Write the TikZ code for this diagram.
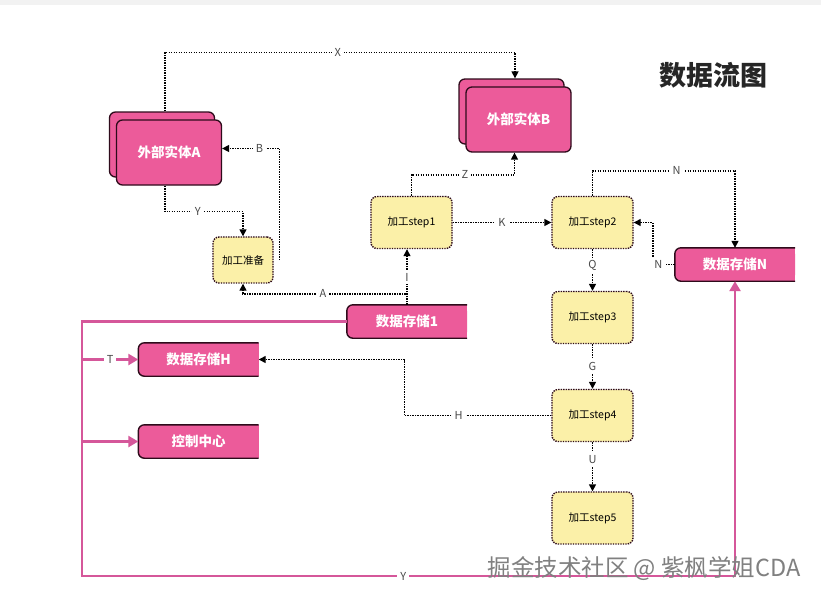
\documentclass[tikz,border=0pt]{standalone}
\usepackage{fontspec}
\setmainfont{Noto Sans CJK SC}
\usetikzlibrary{arrows.meta, positioning, shadows}

\definecolor{pinkfill}{HTML}{EC5B9A}
\definecolor{pinkline}{HTML}{D5579A}
\definecolor{darkline}{HTML}{2E0B1B}
\definecolor{yellowfill}{HTML}{FBF0A8}
\definecolor{labelgray}{HTML}{4A4A4A}

\begin{document}
\begin{tikzpicture}[x=1pt,y=-1pt,
    entity/.style={draw=darkline,line width=1.3pt,fill=pinkfill,rounded corners=6pt,
      minimum width=105pt,minimum height=65pt,text=white,
      font=\fontsize{13.5}{16}\selectfont\bfseries,
      copy shadow={shadow xshift=-7pt,shadow yshift=8pt}},
    proc/.style={draw=darkline,dash pattern=on 1.4pt off 1.1pt,line width=1.4pt,fill=yellowfill,
      rounded corners=6pt,minimum width=81pt,minimum height=52pt,font=\fontsize{10.5}{12}\selectfont},
    store/.style={fill=pinkfill,rounded corners=6pt,minimum width=120pt,minimum height=33pt,
      text=white,font=\fontsize{13.5}{16}\selectfont\bfseries},
    flow/.style={dash pattern=on 1.4pt off 1.1pt,line width=1.4pt,-{Triangle[length=7pt,width=7pt]}},
    pflow/.style={draw=pinkline,line width=2.4pt,-{Triangle[length=10pt,width=11pt]}},
    lbl/.style={fill=white,inner sep=3pt,text=labelgray,font=\fontsize{11}{13}\selectfont}]

    % 背景
    \useasboundingbox (0,0) rectangle (821,600);
    \fill[white] (0,0) rectangle (821,600);
    \fill[black!5] (0,0) rectangle (821,5);

    % 标题
    \node[font=\fontsize{27}{30}\selectfont\bfseries,text=black!85] (title) at (713,75) {数据流图};

    % 外部实体
    \node[entity] (eA) at (169,152.5) {外部实体A};
    \node[entity] (eB) at (518.5,119.5) {外部实体B};

    % 加工
    \node[proc,minimum width=60pt,minimum height=46pt] (pPrep) at (243,260) {加工准备};
    \node[proc] (p1) at (411.5,222.5) {加工step1};
    \node[proc] (p2) at (592.5,222.5) {加工step2};
    \node[proc] (p3) at (592.5,317.5) {加工step3};
    \node[proc] (p4) at (592.5,415.5) {加工step4};
    \node[proc] (p5) at (592.5,518) {加工step5};

    % 数据存储(右端开口)
    \node[store] (st1) at (407,321.5) {数据存储1};
    \node[store] (stH) at (198.5,359.5) {数据存储H};
    \node[store] (stC) at (198.5,441.5) {控制中心};
    \node[store] (stN) at (735,264.5) {数据存储N};
    \foreach \s in {st1,stH,stC,stN}{
      \fill[pinkfill] ([xshift=-7pt]\s.north east) rectangle (\s.south east);
      \draw[darkline,line width=1.4pt,rounded corners=6pt]
        (\s.north east) -- (\s.north west) -- (\s.south west) -- (\s.south east);
    }

    % 数据流(点线)
    \draw[flow] ([xshift=-4pt,yshift=8pt]eA.north) -- ++(0,-59)
      -| node[lbl,pos=.247]{X} ([xshift=-3.5pt,yshift=8pt]eB.north);
    \draw[flow] ([xshift=-4pt]eA.south) -- ++(0,26) -| node[lbl,pos=.21]{Y} (pPrep.north);
    \draw[flow] ([xshift=6pt]pPrep.east) |- node[lbl,pos=.675]{B} ([yshift=4pt]eA.east);
    \draw[flow] (st1.north) -- ++(0,-11) -| node[lbl,pos=.256]{A} (pPrep.south);
    \draw[flow] (st1.north) -- node[lbl]{I} (st1.north |- p1.south);
    \draw[flow] (p1.north) -- ++(0,-21) -| node[lbl,pos=.26]{Z} ([xshift=-4pt]eB.south);
    \draw[flow] (p1) -- node[lbl]{K} (p2);
    \draw[flow] (p2.north) -- ++(0,-25) -| node[lbl,pos=.295]{N} (stN.north);
    \draw[flow] (stN.west) -- node[lbl,pos=.75]{N} ++(-22,0) |- (p2.east);
    \draw[flow] (p2) -- node[lbl,pos=.4]{Q} (p3);
    \draw[flow] (p3) -- node[lbl]{G} (p4);
    \draw[flow] (p4) -- node[lbl,pos=.35]{U} (p5);
    \draw[flow] (p4.west) -- node[lbl,pos=.63]{H} ++(-147,0) |- (stH.east);

    % 数据流(粉色实线)
    \coordinate (busT) at (82,321.5);
    \coordinate (busB) at (82,576);
    \draw[pflow] (st1.west) -- (busT) -- (busB) -| node[lbl,pos=.246]{Y} (stN.south);
    \draw[pflow] (busT |- stH.west) -- node[lbl]{T} (stH.west);
    \draw[pflow] (busT |- stC.west) -- (stC.west);

    % 水印
    \node[font=\fontsize{23.5}{26}\selectfont,text=black!50] (wm) at (644,569) {掘金技术社区 @ 紫枫学姐CDA};

\end{tikzpicture}
\end{document}
